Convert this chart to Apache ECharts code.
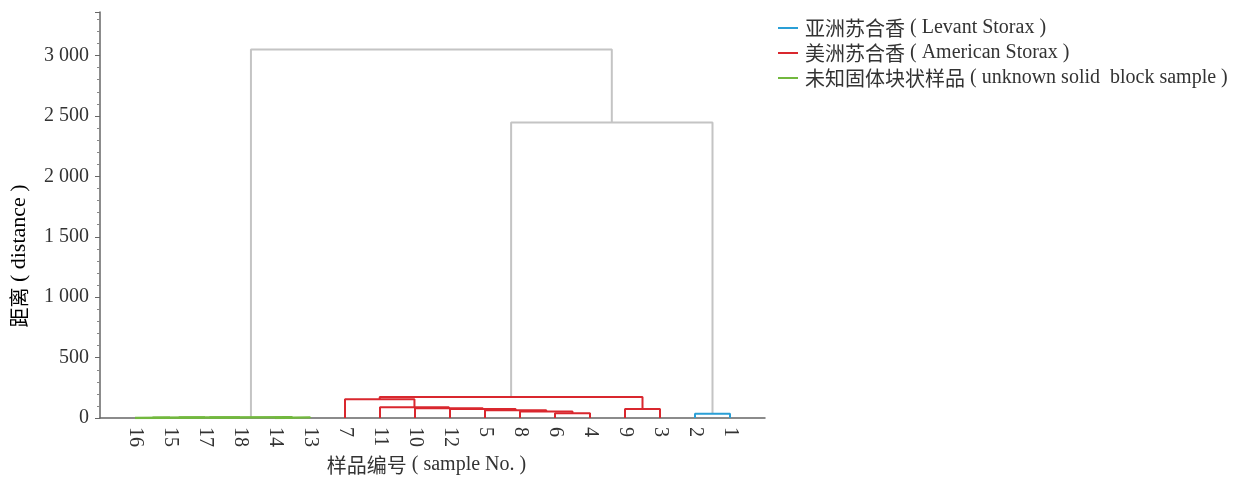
<!DOCTYPE html>
<html>
<head>
<meta charset="utf-8">
<script src="https://cdn.jsdelivr.net/npm/echarts@6/dist/echarts.min.js"></script>
<style>
  html, body { margin: 0; padding: 0; background: #fff; }
  #chart { width: 1245px; height: 480px; }
</style>
</head>
<body>
<div id="chart"></div>
<script>
// Hierarchical clustering of 18 samples.
// Each merge joins two nodes: a sample number (string) or an earlier merge ('m' + index).
const mergeChildren = [
  ['16', '15'], ['m0', '17'], ['m1', '18'], ['14', '13'], ['m2', 'm3'],
  ['6', '4'], ['8', 'm5'], ['5', 'm6'], ['12', 'm7'], ['10', 'm8'], ['11', 'm9'], ['7', 'm10'],
  ['9', '3'], ['m11', 'm12'],
  ['2', '1'],
  ['m13', 'm14'], ['m4', 'm15']
];
// Merge distances
const mergeHeights = [
  3, 4, 5, 6, 8,
  40, 55, 65, 75, 82, 90, 155,
  75, 175,
  35,
  2445, 3050
];
// Cluster group of each merge (null = link between groups)
const mergeGroups = [
  'unknown', 'unknown', 'unknown', 'unknown', 'unknown',
  'american', 'american', 'american', 'american', 'american', 'american', 'american',
  'american', 'american',
  'levant',
  null, null
];

const groupKeys = ['levant', 'american', 'unknown'];
const groupNamesZh = { levant: '亚洲苏合香', american: '美洲苏合香', unknown: '未知固体块状样品' };
const groupNamesEn = { levant: 'Levant Storax', american: 'American Storax', unknown: 'unknown solid  block sample' };
const groupColors = { levant: '#2a9fd6', american: '#d9272e', unknown: '#72b83e' };
const linkColor = '#c4c4c4';
const yTicks = [0, 500, 1000, 1500, 2000, 2500, 3000];

const groupNames = {};
groupKeys.forEach(k => { groupNames[k] = groupNamesZh[k] + ' ( ' + groupNamesEn[k] + ' )'; });

// Leaf order from a left-to-right walk of the tree
const rootId = 'm' + (mergeChildren.length - 1);
const leafOrder = [];
(function walk(id) {
  if (id[0] === 'm') {
    const c = mergeChildren[+id.slice(1)];
    walk(c[0]); walk(c[1]);
  } else {
    leafOrder.push(id);
  }
})(rootId);

// Position (x = leaf index, y = height) of every node
const nodePos = {};
leafOrder.forEach((id, i) => { nodePos[id] = [i, 0]; });
mergeChildren.forEach((c, i) => {
  const a = nodePos[c[0]], b = nodePos[c[1]];
  nodePos['m' + i] = [(a[0] + b[0]) / 2, mergeHeights[i]];
});

const serif = "'Liberation Serif', 'Noto Sans CJK SC', serif";
const cjk = "'Noto Sans CJK SC', 'Liberation Serif', sans-serif";
const series = mergeChildren.map((c, i) => {
  const a = nodePos[c[0]], b = nodePos[c[1]], h = mergeHeights[i];
  const g = mergeGroups[i];
  return {
    type: 'line',
    name: g ? groupNames[g] : 'link',
    data: [[a[0], a[1]], [a[0], h], [b[0], h], [b[0], b[1]]],
    showSymbol: false,
    symbol: 'none',
    silent: true,
    z: g ? 3 : 2,
    lineStyle: { color: g ? groupColors[g] : linkColor, width: g === 'unknown' ? 2.5 : 2 },
    itemStyle: { color: g ? groupColors[g] : linkColor }
  };
});

function fmtThousands(v) {
  return String(v).replace(/\B(?=(\d{3})+(?!\d))/g, ' ');
}

// Chinese part in a CJK face, Latin part in a serif face
const mixedRich = {
  zh: { fontFamily: cjk, fontSize: 20, color: '#333', lineHeight: 20 },
  en: { fontFamily: serif, fontSize: 20, color: '#333', lineHeight: 20 },
  enL: { fontFamily: serif, fontSize: 22, color: '#333', lineHeight: 22 }
};
function mixed(zh, en, enStyle) {
  return '{zh|' + zh + '}{' + (enStyle || 'en') + '| ( ' + en + ' )}';
}

const chart = echarts.init(document.getElementById('chart'), null, { renderer: 'canvas' });
chart.setOption({
  animation: false,
  backgroundColor: '#fff',
  grid: { left: 100, right: 480, top: 12, bottom: 54 },
  legend: {
    orient: 'vertical',
    left: 773,
    top: 13,
    itemGap: 5,
    itemWidth: 20,
    itemHeight: 2,
    icon: 'rect',
    data: groupKeys.map(k => groupNames[k]),
    formatter: name => {
      const k = groupKeys.find(g => groupNames[g] === name);
      return mixed(groupNamesZh[k], groupNamesEn[k]);
    },
    textStyle: { rich: mixedRich, padding: [0, 0, 0, 2] }
  },
  xAxis: {
    type: 'value',
    min: -1,
    max: leafOrder.length,
    interval: 1,
    splitLine: { show: false },
    axisTick: { show: false },
    axisLine: { lineStyle: { color: '#666', width: 1.5 } },
    axisLabel: {
      rotate: -90,
      margin: 9,
      fontFamily: serif,
      fontSize: 20,
      color: '#333',
      formatter: v => (v >= 0 && v < leafOrder.length ? leafOrder[v] : '')
    },
    name: mixed('样品编号', 'sample No.'),
    nameLocation: 'middle',
    nameGap: 35,
    nameTextStyle: { rich: mixedRich, padding: [0, 12, 0, 0] }
  },
  yAxis: {
    type: 'value',
    min: 0,
    max: 3360,
    interval: 500,
    splitLine: { show: false },
    axisLine: { show: true, onZero: false, lineStyle: { color: '#666', width: 1.5 } },
    axisTick: { show: true, length: 5, lineStyle: { color: '#666' } },
    minorTick: { show: true, splitNumber: 5, length: 3, lineStyle: { color: '#888' } },
    axisLabel: {
      margin: 11,
      fontFamily: serif,
      fontSize: 20,
      color: '#333',
      formatter: v => (yTicks.indexOf(v) >= 0 ? fmtThousands(v) : '')
    }
  },
  graphic: [{
    type: 'text',
    x: 19,
    y: 256,
    rotation: Math.PI / 2,
    style: {
      text: mixed('距离', 'distance', 'enL'),
      rich: mixedRich,
      align: 'center',
      verticalAlign: 'middle'
    }
  }],
  series: series
});
</script>
</body>
</html>
